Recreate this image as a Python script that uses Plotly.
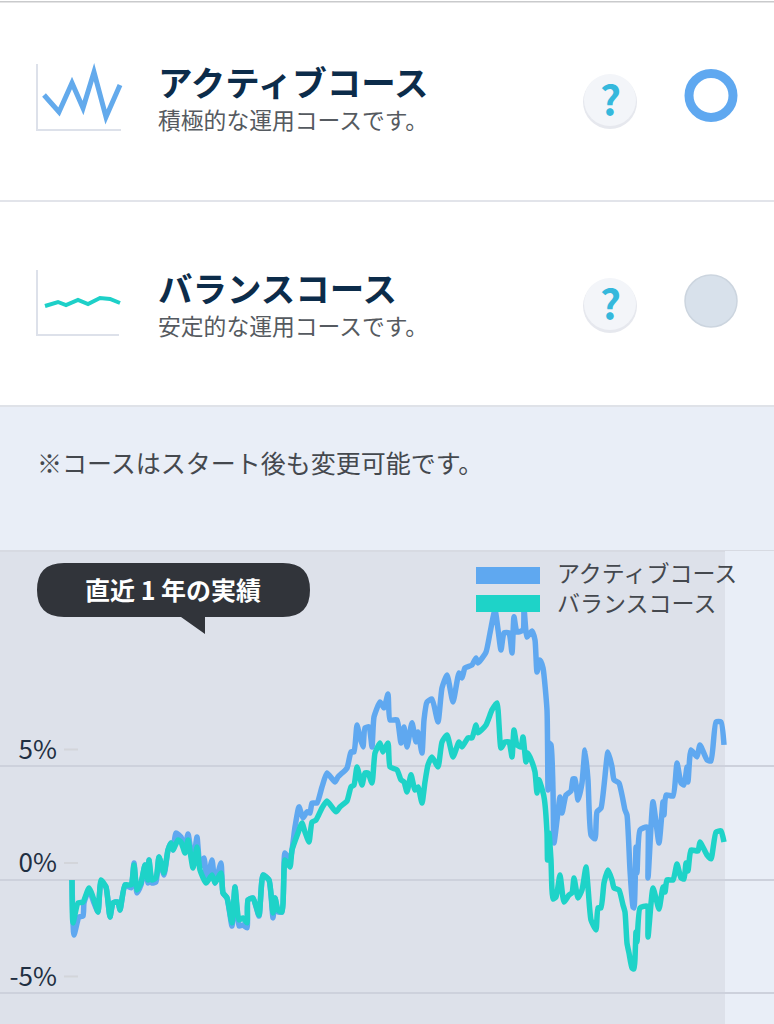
import plotly.graph_objects as go

# ---- data (weekday index over the year, return in %) ----
active_days = [0,.8,2.8,4.4,4.8,6.8,8.8,10.4,11.6,13.6,15.2,16.4,18.4,19.2,21.2,23.6,24.8,26,27.6,29.2,30.4,30.8,32,33.6,34.8,36.8,38.4,39.6,40.4,41.6,43.6,45.2,46.4,48.4,50,51.2,52.8,54,56,57.2,59.6,60.4,62,64,65.2,66.8,68.4,70,70.4,72.4,74.8,76.4,78.8,80.4,81.2,82.4,84,85.2,87.2,89.2,90.8,92.4,94,95.2,96,98,100,102,105.2,106.4,110,111.6,112.8,114,115.2,116.4,117.2,118.8,120,120.8,123.2,124.8,126.4,127.2,130,131.6,132.8,134,136,137.6,138.4,140,140.8,142,144,146.4,148,150,152.4,154.8,156,157.2,160,161.6,162.4,165.6,167.2,169.2,171.6,172.8,174.8,176,176.8,178,180.4,180.8,182,184,185.2,186,187.2,188.4,190,190.4,190.8,191.6,192.4,192.8,194,195.2,196,197.6,199.6,200.4,201.2,202.4,204,205.2,206.4,207.6,209.2,210,211.6,214.4,216,216.8,218.8,220.4,221.2,222,223.2,224.4,224.8,225.6,226,227.2,230,230.4,232.4,234.8,236.4,236.8,237.6,240.4,242,243.6,244.8,246,246.4,247.6,250,251.2,254,255.6,257.6,259.6,260.8]
active_values = [0,-2.42,-1.63,-1.59,-1.01,-.44,-1.01,-1.41,-.09,-.31,-1.63,-1.01,-.97,-1.32,-.22,-.35,.75,-.57,-.22,.66,-.13,.88,-.13,-.09,1.01,.22,1.32,1.63,1.32,2.07,1.89,1.41,2.03,.75,1.89,.57,.97,-.09,.88,-.13,.75,-.57,-.79,-2.03,-.31,-2.03,-1.98,-2.11,-.88,-.79,-1.59,.22,0,-1.67,-.79,-1.41,-1.41,1.19,.88,2.33,3.22,2.73,3.0,2.95,3.39,3.39,4.10,4.71,4.32,4.54,4.93,5.64,5.64,6.83,6.26,5.86,6.70,6.74,5.86,7.18,7.84,7.58,8.19,7.05,7.05,6.03,6.74,5.86,6.92,6.08,6.52,5.59,7.05,7.84,7.97,6.96,8.46,9.03,7.84,9.12,8.90,9.34,9.47,9.78,9.56,10.04,10.88,11.89,10.13,10.88,10.88,10.0,11.59,10.92,11.01,11.98,10.70,10.97,10.57,9.16,9.69,9.34,7.49,3.96,6.03,5.95,3.96,1.63,2.64,3.66,2.95,3.74,3.92,4.45,4.45,3.52,4.27,5.73,4.41,1.98,1.81,3.0,3.17,5.64,4.98,4.41,4.27,3.52,3.08,2.86,.44,-1.19,-1.23,1.45,.31,2.20,2.33,.09,3.44,1.63,3.44,2.86,3.74,3.70,5.15,4.27,4.18,4.98,4.32,5.73,5.42,5.95,5.29,5.24,6.96,6.96,5.95]

balance_days = [0,.4,2.4,4.4,6.8,8.8,10.4,11.6,13.6,15.2,16.4,18.4,19.2,21.2,23.6,24.8,26,27.6,29.2,30.4,30.8,32,33.6,34.8,36.8,38.4,39.6,40.4,42.4,43.6,45.2,46.4,48.4,50,51.2,53.6,56,57.2,59.6,60.4,62,64,65.2,66.8,68.4,70,70.4,72.4,74.8,76.4,78.8,80.4,81.2,82.4,84,85.2,87.2,88,90.4,92,93.2,94.8,96,97.6,100,102,105.6,107.2,110,111.6,112.8,114,116,117.2,118.4,120,121.2,123.2,124.4,126.4,127.2,130,131.6,132.8,134,135.6,137.2,138.4,140,141.2,142.4,144,146.4,148,150,152.4,154.8,156,158.4,160,161.6,162.4,165.6,168,170,171.6,173.2,174.8,176,176.8,178,179.6,180.4,181.6,182.4,184,185.2,186,186.8,188.8,190,190.2,190.8,191.6,192.4,193.6,195.2,196.8,198.8,200,200.8,202.4,204,205.6,206.4,207.6,209.6,210.4,211.6,212.8,214.4,216,216.8,218.8,220.4,221.2,222,222.8,224,224.8,225.6,226,227.2,230,230.4,232.4,234.8,236.4,237.2,238,240.4,242,243.6,244.8,245.6,246.4,247.6,250.4,251.2,254,255.6,257.6,259.6,260.8]
balance_values = [0,-1.89,-1.01,-.97,-.35,-.88,-1.41,0,-.31,-1.63,-1.01,-.97,-1.32,-.22,-.22,.66,-.44,-.13,.66,0,.88,0,.09,1.01,.31,1.32,1.63,1.32,1.76,1.67,1.19,1.76,.53,1.45,.44,-.13,.22,-.13,.31,-.57,-.79,-1.89,-.31,-1.76,-1.67,-1.89,-.88,-.79,-1.54,.22,0,-1.45,-.79,-1.32,-1.41,.88,.57,1.32,2.07,2.51,2.11,1.67,2.55,2.64,3.17,3.48,3.0,3.22,3.48,4.10,4.18,4.98,4.18,4.71,4.71,4.27,5.59,6.03,5.64,6.03,4.98,4.85,4.41,4.32,3.88,4.63,3.96,4.10,3.39,4.32,5.07,5.42,4.98,6.08,6.39,5.42,6.08,5.86,6.26,6.26,6.83,6.48,6.83,7.49,7.80,5.81,6.08,6.08,5.42,6.61,5.95,5.86,6.30,5.20,5.59,5.20,4.76,3.83,4.41,3.66,2.07,.88,2.07,.88,-.84,-.75,.22,-.97,-.66,-.57,.09,-.79,-.44,.57,-.31,-1.76,-2.20,-1.23,-1.23,-.13,.44,0,-.35,-.44,-1.10,-1.41,-2.78,-3.22,-3.88,-3.92,-2.29,-2.73,-1.23,-1.15,-2.51,-.35,-1.28,-.31,-.53,0,0,.70,.09,.04,.75,.40,1.32,1.28,1.67,1.10,.93,2.11,2.16,1.67]

tick_values = [-5, 0, 5]
tick_labels = ["-5%", "0%", "5%"]
series_names = ["アクティブコース", "バランスコース"]
last_day = 261.2

# ---- styling ----
W, H = 774, 1024
FONT = "Noto Sans CJK JP"
BLUE, TEAL = "#5fa8f0", "#1ed3c8"
NAVY = "#0c2c4a"
PAGE = "#e9eef7"
PANEL = "#dde1ea"
GRID = "#cdd1dc"

def X(p): return p / W
def Y(p): return 1 - p / H

shapes, notes = [], []

def rect(x0, y0, x1, y1, color, layer="below"):
    shapes.append(dict(type="rect", xref="paper", yref="paper", x0=X(x0), x1=X(x1), y0=Y(y0), y1=Y(y1),
                       fillcolor=color, line_width=0, layer=layer))

def circle(cx, cy, r, fill, line=None, lw=0):
    shapes.append(dict(type="circle", xref="paper", yref="paper", x0=X(cx-r), x1=X(cx+r), y0=Y(cy-r), y1=Y(cy+r),
                       fillcolor=fill, line=dict(color=line or fill, width=lw), layer="above"))

def poly(points, color, width):
    d = "M" + " L".join(f"{X(a):.5f},{Y(b):.5f}" for a, b in points)
    shapes.append(dict(type="path", xref="paper", yref="paper", path=d,
                       line=dict(color=color, width=width), layer="above"))

def text(x, y, s, size, color, anchor="left", bold=False):
    notes.append(dict(xref="paper", yref="paper", x=X(x), y=Y(y), text=f"<b>{s}</b>" if bold else s,
                      showarrow=False, xanchor=anchor, yanchor="middle", align="left",
                      font=dict(family=FONT, size=size, color=color)))

# page bands
rect(0, 1, W, 2.5, "#c9cacc")
rect(0, 200, W, 202, "#e2e4ea")
rect(0, 405, W, 407.5, "#dfe2e8")
rect(0, 407, W, 550, PAGE)
rect(0, 550, W, 552, "#d7dae2")

# course rows
poly([(37, 64), (37, 130), (121, 130)], "#dde1ea", 2)
poly([(44, 95), (59, 112), (72, 83), (83, 108), (94, 72), (106, 117), (120, 85)], "#63aaec", 5)
poly([(37, 270), (37, 335), (119, 335)], "#dde1ea", 2)
poly([(45, 306), (58, 302), (66, 305), (78, 300), (88, 304), (100, 298), (110, 299), (120, 303)], "#1dd0c8", 4)

text(156, 81, series_names[0], 34.5, NAVY, bold=True)
text(156, 119, "積極的な運用コースです。", 22.8, "#555a60")
text(156, 287, series_names[1], 34.5, NAVY, bold=True)
text(156, 325, "安定的な運用コースです。", 22.8, "#555a60")
text(35, 462, "※コースはスタート後も変更可能です。", 25, "#44484e")

for cy in (100, 304):
    circle(610, cy + 2, 27, "#e6e8ee")
    circle(610, cy, 26, "#f3f5f9")
    text(610, cy - 3, "?", 41, "#35b8dc", anchor="center", bold=True)

circle(711, 95.5, 22, "#ffffff", BLUE, 9)
circle(711, 301, 26, "#d8e1eb", "#ccd5df", 1.5)

# speech bubble
x0, x1, y0, y1, r = 37, 310, 563, 617, 27
pts = (f"M{X(x0+r)},{Y(y0)} L{X(x1-r)},{Y(y0)} Q{X(x1)},{Y(y0)} {X(x1)},{Y(y0+r)} "
       f"Q{X(x1)},{Y(y1)} {X(x1-r)},{Y(y1)} L{X(205)},{Y(y1)} L{X(205)},{Y(634)} L{X(181)},{Y(y1)} "
       f"L{X(x0+r)},{Y(y1)} Q{X(x0)},{Y(y1)} {X(x0)},{Y(y1-r)} Q{X(x0)},{Y(y0)} {X(x0+r)},{Y(y0)} Z")
shapes.append(dict(type="path", xref="paper", yref="paper", path=pts, fillcolor="#31343a", line_width=0, layer="above"))
text(173, 589, "直近 1 年の実績", 25, "#ffffff", anchor="center", bold=True)

# legend
rect(476, 567, 540, 584, BLUE, layer="above")
rect(476, 595, 540, 612, TEAL, layer="above")
text(555, 587, "<br>".join(series_names), 23, "#44484e")

# lighter strip right of the last day
shapes.append(dict(type="rect", xref="x", yref="paper", x0=last_day, x1=280.8, y0=0, y1=Y(551),
                   fillcolor=PAGE, line_width=0, layer="below"))
# short tick dashes above each gridline
for v in tick_values:
    shapes.append(dict(type="line", xref="paper", yref="y", ysizemode="pixel", yanchor=v, y0=17, y1=17,
                       x0=X(64), x1=X(78), line=dict(color="#d3d5da", width=2), layer="above"))

fig = go.Figure()
line_style = dict(width=5.5, shape="spline", smoothing=0.5)
fig.add_trace(go.Scatter(x=active_days, y=active_values, name=series_names[0], mode="lines",
                         line=dict(color=BLUE, **line_style), showlegend=False))
fig.add_trace(go.Scatter(x=balance_days, y=balance_values, name=series_names[1], mode="lines",
                         line=dict(color=TEAL, **line_style), showlegend=False))

fig.update_layout(
    width=W, height=H, margin=dict(l=0, r=0, t=0, b=0),
    paper_bgcolor="#ffffff", plot_bgcolor=PANEL,
    shapes=shapes, annotations=notes, hovermode=False,
    font=dict(family=FONT),
    xaxis=dict(range=[-28.8, 280.8], domain=[0, 1], visible=False, fixedrange=True),
    yaxis=dict(range=[-6.344, 14.49], domain=[0, Y(551)], tickvals=tick_values, ticktext=tick_labels,
               anchor="free", position=X(57), side="left", showline=False, zeroline=False,
               showgrid=True, gridcolor=GRID, gridwidth=2, ticks="", ticklabelshift=-17,
               tickfont=dict(family=FONT, size=26, color="#1f2f42"), fixedrange=True),
)

fig.write_html("out.html", config=dict(displayModeBar=False),
               post_script="document.body.style.margin='0';document.body.style.overflow='hidden';")
